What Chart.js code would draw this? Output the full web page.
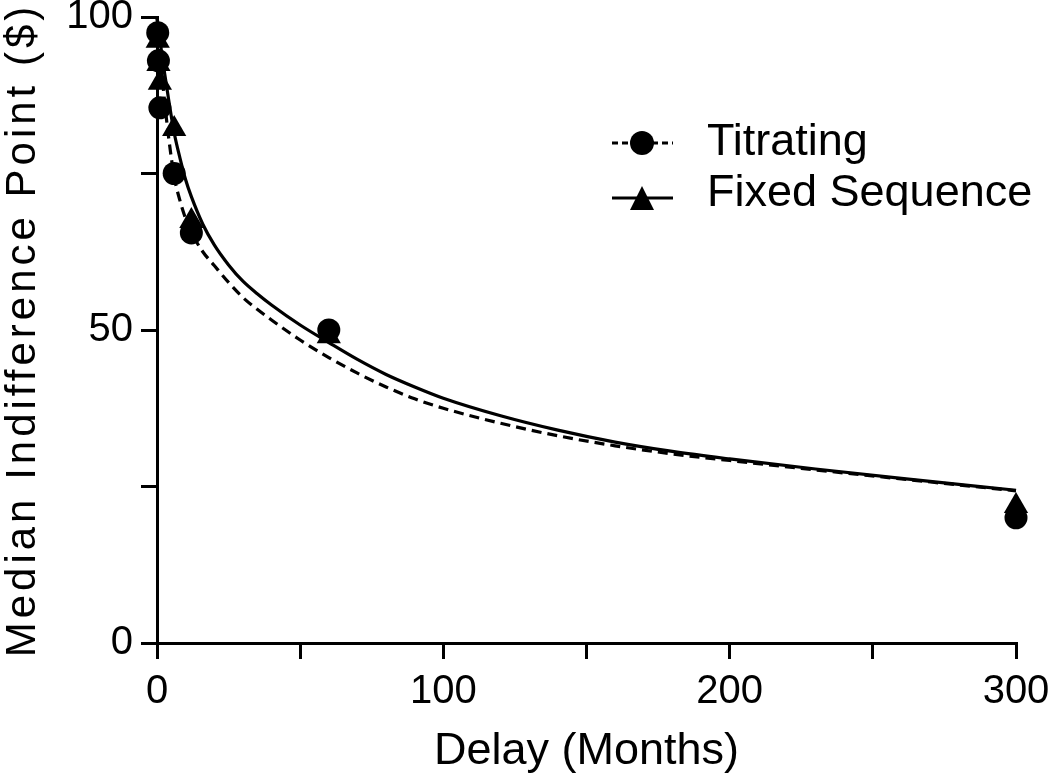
<!DOCTYPE html>
<html>
<head>
<meta charset="utf-8">
<script src="https://cdn.jsdelivr.net/npm/chart.js@4.4.1/dist/chart.umd.min.js"></script>
<style>
html,body{margin:0;padding:0;background:#fff;}
canvas{display:block;}
</style>
</head>
<body>
<canvas id="c" width="1050" height="784"></canvas>
<script>
// ---- data ----
const seriesNames = ['Titrating', 'Fixed Sequence'];
const delays = [0.25, 0.5, 1, 6, 12, 60, 300];            // months
const titratingPoints = [97.5, 93, 85.5, 75, 65.5, 50, 20];
const fixedPoints = [96.2, 92.5, 89.5, 82.1, 67.4, 49, 21.9];

const curveDelays = [0, 1, 2, 3, 4, 6, 8, 10, 12, 16, 20, 25, 30, 35, 40, 50, 60, 70, 80, 90, 100, 120, 140, 160, 180, 200, 230, 260, 300];
const titratingCurve = [100, 94.5, 89.5, 85, 81, 74.5, 70.7, 67.8, 65.6, 62.5, 60.3, 57.6, 55.2, 53.3, 51.6, 48.4, 45.6, 43.1, 40.9, 39.0, 37.5, 35.1, 33.1, 31.5, 30.2, 29.15, 27.65, 26.2, 24.3];
const fixedCurve = [100, 96.5, 93, 90, 87, 81.5, 77.5, 74.0, 71.3, 66.9, 63.6, 60.4, 57.8, 55.8, 54.0, 50.8, 48.0, 45.3, 42.9, 40.9, 39.1, 36.3, 34.0, 32.1, 30.6, 29.4, 27.8, 26.3, 24.4];

const xTickLabels = [0, 100, 200, 300];
const yTickLabels = [0, 50, 100];
const xTitle = 'Delay (Months)';
const yTitle = 'Median Indifference Point ($)';

// ---- build ----
const pts = (xs, ys) => xs.map((x, i) => ({x: x, y: ys[i]}));

const TEXT_FONT = "'Liberation Sans', Arial, sans-serif";

const legendPlugin = {
  id: 'prismLegend',
  afterDraw(chart) {
    const ctx = chart.ctx;
    const rows = [
      {text: seriesNames[0], dash: [6, 4], marker: 'circle', y: 143},
      {text: seriesNames[1], dash: [], marker: 'triangle', y: 198}
    ];
    ctx.save();
    rows.forEach(r => {
      ctx.strokeStyle = '#000';
      ctx.lineWidth = 3;
      ctx.setLineDash(r.dash);
      ctx.beginPath();
      ctx.moveTo(612, r.y);
      ctx.lineTo(673, r.y);
      ctx.stroke();
      ctx.setLineDash([]);
      ctx.fillStyle = '#000';
      ctx.beginPath();
      if (r.marker === 'circle') {
        ctx.arc(642, r.y, 12, 0, Math.PI * 2);
      } else {
        ctx.moveTo(642, r.y - 12);
        ctx.lineTo(654, r.y + 12);
        ctx.lineTo(630, r.y + 12);
        ctx.closePath();
      }
      ctx.fill();
      ctx.font = '45px ' + TEXT_FONT;
      ctx.textAlign = 'left';
      ctx.textBaseline = 'middle';
      ctx.fillText(r.text, 707, r.y - (r.marker === 'circle' ? 0 : 4));
    });
    ctx.restore();
  }
};

const ySpacingPlugin = {
  id: 'ySpacing',
  afterLayout(chart) {
    const s = chart.scales.y;
    if (s && !s._spacedTitle) {
      const orig = s.drawTitle.bind(s);
      s.drawTitle = function () {
        const c = this.ctx;
        c.save();
        c.letterSpacing = '4px';
        orig();
        c.restore();
      };
      s._spacedTitle = true;
    }
  }
};

const axisCommon = {
  grid: {display: true, drawOnChartArea: false, drawTicks: true, tickLength: 16, tickWidth: 3, tickColor: '#000', color: '#000', lineWidth: 3},
  border: {display: true, color: '#000', width: 3}
};

new Chart(document.getElementById('c'), {
  type: 'scatter',
  data: {
    datasets: [
      {label: seriesNames[0], data: pts(delays, titratingPoints), pointStyle: 'circle', pointRadius: 11.5, pointHoverRadius: 11.5,
       backgroundColor: '#000', borderColor: '#000', pointBorderWidth: 0, showLine: false, clip: false},
      {label: seriesNames[1], data: pts(delays, fixedPoints), pointStyle: 'triangle', pointRadius: 14, pointHoverRadius: 14,
       backgroundColor: '#000', borderColor: '#000', pointBorderWidth: 0, showLine: false, clip: false},
      {label: seriesNames[0] + ' fit', type: 'line', data: pts(curveDelays, titratingCurve), borderColor: '#000', borderWidth: 3.2,
       borderDash: [10, 6], pointRadius: 0, fill: false, cubicInterpolationMode: 'monotone', clip: false},
      {label: seriesNames[1] + ' fit', type: 'line', data: pts(curveDelays, fixedCurve), borderColor: '#000', borderWidth: 3.2,
       pointRadius: 0, fill: false, cubicInterpolationMode: 'monotone', clip: false}
    ]
  },
  options: {
    responsive: false,
    animation: false,
    events: [],
    layout: {padding: {top: 17, right: 34, left: 0, bottom: 0}},
    plugins: {legend: {display: false}, tooltip: {enabled: false}},
    scales: {
      x: Object.assign({}, axisCommon, {
        type: 'linear', min: 0, max: 300,
        afterFit(s) { s.height = 141; s.paddingLeft = 0; s.paddingRight = 0; },
        ticks: {stepSize: 50, autoSkip: false, maxRotation: 0, color: '#000', padding: 9,
                font: {family: TEXT_FONT, size: 40, lineHeight: 1.2},
                callback: v => xTickLabels.includes(v) ? String(v) : ''},
        title: {display: true, text: xTitle, color: '#000', font: {family: TEXT_FONT, size: 45, lineHeight: 1.2}, padding: {top: 0, bottom: 5}}
      }),
      y: Object.assign({}, axisCommon, {
        type: 'linear', min: 0, max: 100,
        afterFit(s) { s.width = 157; s.paddingTop = 0; s.paddingBottom = 0; },
        ticks: {stepSize: 25, autoSkip: false, color: '#000', padding: 8,
                font: {family: TEXT_FONT, size: 40, lineHeight: 1.2},
                callback: v => yTickLabels.includes(v) ? String(v) : ''},
        title: {display: true, text: yTitle, color: '#000', font: {family: TEXT_FONT, size: 42, lineHeight: 1.1}, padding: {top: 0, bottom: 0}}
      })
    }
  },
  plugins: [legendPlugin, ySpacingPlugin]
});
</script>
</body>
</html>
